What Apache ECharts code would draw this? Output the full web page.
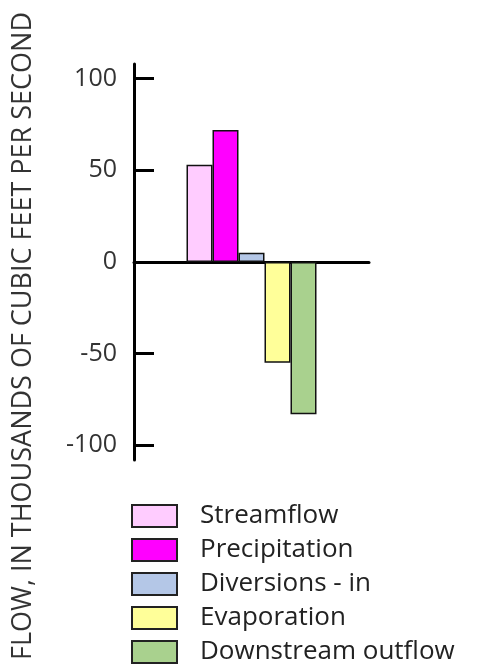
<!DOCTYPE html>
<html>
<head>
<meta charset="utf-8">
<script src="https://cdn.jsdelivr.net/npm/echarts@6/dist/echarts.min.js"></script>
<style>
html,body{margin:0;padding:0;background:#fff;}
#c{width:477px;height:672px;}
</style>
</head>
<body>
<div id="c"></div>
<script>
var seriesNames = ['Streamflow', 'Precipitation', 'Diversions - in', 'Evaporation', 'Downstream outflow'];
var seriesValues = [53, 72, 5, -55, -83];
var seriesColors = ['#FFCCFF', '#FF00FF', '#B4C7E7', '#FFFF99', '#A9D18E'];
var tickValues = [-100, -50, 0, 50, 100];
var categories = ['Flow'];
var yTitle = 'FLOW, IN THOUSANDS OF CUBIC FEET PER SECOND';

var chart = echarts.init(document.getElementById('c'), null, {renderer: 'canvas'});
var series = seriesNames.map(function (n, i) {
  return {
    name: n,
    type: 'bar',
    data: [seriesValues[i]],
    barWidth: 26,
    barGap: '0%',
    itemStyle: {color: seriesColors[i], borderColor: '#111', borderWidth: 1.5},
    emphasis: {disabled: true}
  };
});
chart.setOption({
  animation: false,
  backgroundColor: '#fff',
  grid: {left: 134, right: 108, top: 64, bottom: 212, containLabel: false},
  xAxis: {
    type: 'category',
    data: categories,
    axisLine: {onZero: true, lineStyle: {color: '#000', width: 3}},
    axisTick: {show: false},
    axisLabel: {show: false},
    splitLine: {show: false}
  },
  yAxis: {
    type: 'value',
    min: -108,
    max: 108,
    axisLine: {show: true, lineStyle: {color: '#000', width: 3}},
    axisTick: {show: true, inside: true, length: 20, customValues: tickValues, lineStyle: {color: '#000', width: 3}},
    axisLabel: {show: true, customValues: tickValues, margin: 17, fontSize: 25, color: '#333', fontFamily: 'Open Sans'},
    splitLine: {show: false}
  },
  legend: {
    orient: 'vertical',
    left: 131,
    top: 503,
    padding: 0,
    itemWidth: 45,
    itemHeight: 22,
    itemGap: 8,
    icon: 'rect',
    itemStyle: {borderColor: '#222', borderWidth: 2},
    textStyle: {fontSize: 26, color: '#222', fontFamily: 'Open Sans', padding: [0, 0, 0, 18]},
    data: seriesNames,
    selectedMode: false
  },
  graphic: [{
    type: 'text',
    left: 10,
    top: 'middle',
    rotation: Math.PI / 2,
    style: {text: yTitle, fontSize: 27, fill: '#333', fontFamily: 'Open Sans'}
  }],
  series: series
});
</script>
</body>
</html>
